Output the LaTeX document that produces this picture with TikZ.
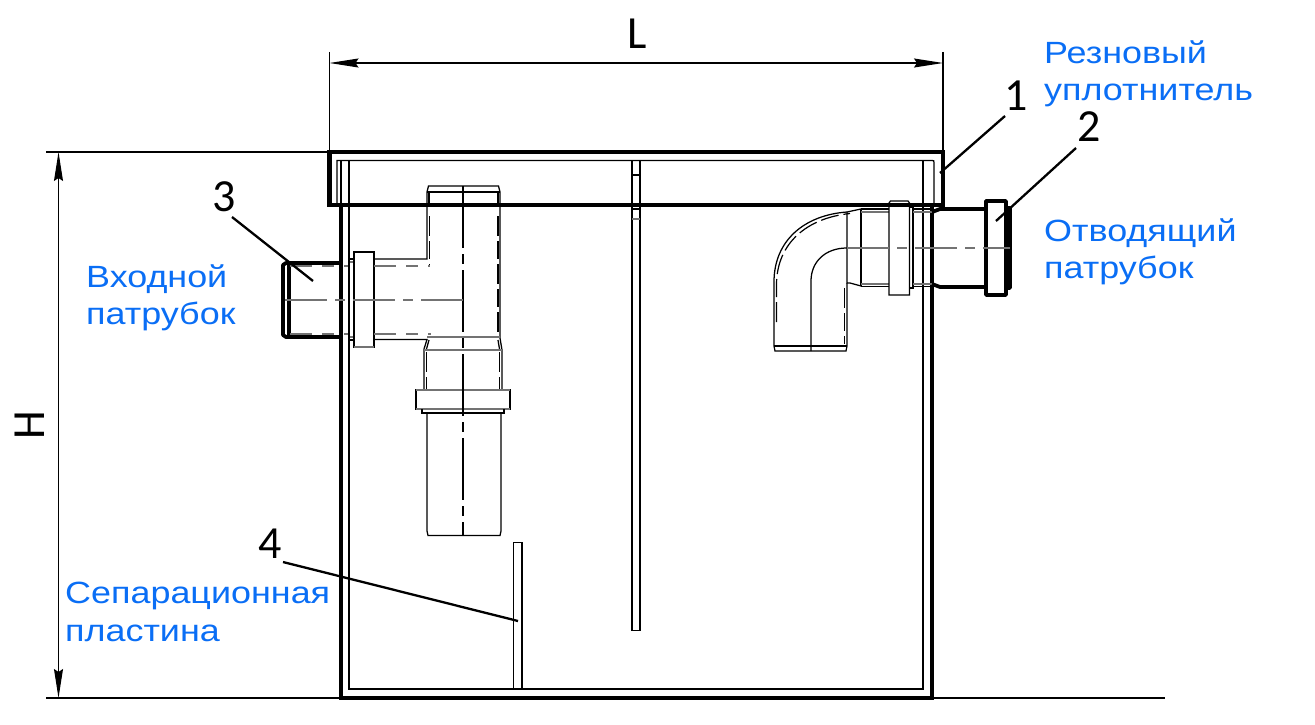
\documentclass[tikz,border=0pt]{standalone}
\usepackage{fontspec}
\setmainfont{Liberation Sans}
\newfontfamily\bluefont[FakeStretch=1.17]{Liberation Sans}
\newfontfamily\numfont{Carlito}
\usetikzlibrary{arrows.meta}
\definecolor{labelblue}{HTML}{0A6EF5}
\tikzset{
  wall/.style={line width=4.3pt,line join=miter},
  pipe/.style={line width=3.8pt,line join=round},
  thin/.style={line width=1.25pt},
  grayl/.style={line width=1.4pt,draw=black!55},
  hid/.style={line width=1.2pt,dash pattern=on 20pt off 5pt on 18pt off 5pt},
  hidg/.style={line width=1.4pt,draw=black!55,dash pattern=on 22pt off 10pt on 12pt off 10pt},
  axis/.style={line width=1.2pt,dash pattern=on 62pt off 6pt on 10pt off 6pt},
  axisg/.style={line width=1.4pt,draw=black!55,dash pattern=on 42pt off 8pt on 10pt off 8pt},
  dimline/.style={line width=1.2pt},
  dimarrow/.style={line width=1.2pt,{Stealth[length=29pt,width=9pt,inset=3pt]}-{Stealth[length=29pt,width=9pt,inset=3pt]}},
  leader/.style={line width=2.3pt},
  num/.style={font=\numfont\fontsize{46}{46}\selectfont,inner sep=0pt},
  lab/.style={font=\bluefont\fontsize{30.7}{37.5}\selectfont,text=labelblue,inner sep=0pt,align=left,anchor=west},
}
\begin{document}
\begin{tikzpicture}[x=1pt,y=-1pt]
\useasboundingbox (0,0) rectangle (1315,725);
% lid and tank
\draw[wall] (329.5,152) rectangle (943,205);
\draw[wall] (341,205) -- (341,698) -- (932,698) -- (932,205);
\draw[thin] (337,205) -- (337,160.5) -- (932,160.5) .. controls (934,160.5) .. (934,163) -- (934,205);
\draw[thin] (341,160.5) -- (341,205);
\draw[thin] (349,160.5) -- (349,689) -- (923,689) -- (923,160.5);
% central baffle
\draw[thin] (632,160.5) -- (632,630.5) -- (640,630.5) -- (640,160.5);
\draw[thin] (632,175) -- (640,175);
\draw[thin] (632,209) -- (640,209);
\draw[grayl] (632,219) -- (640,219);
% separation plate
\draw[thin] (513.5,689) -- (513.5,542.5) -- (522,542.5) -- (522,689);
% inlet spigot
\draw[pipe] (341,263) -- (286,263) -- (283,265) -- (283,335) -- (286,337) -- (341,337);
\draw[pipe] (289,263) -- (289,337);
\draw[hidg] (290,266) -- (349,266);
\draw[hidg] (290,334) -- (349,334);
\draw[grayl] (349,262) -- (354,262);
\draw[grayl] (349,337) -- (354,337);
% inlet flange
\draw[thin] (349,259) rectangle (354,340);
\draw[thin] (354,252) rectangle (374,347);
\draw[grayl] (354,347) -- (374,347);
% tee
\draw[thin] (374,259) -- (427,259) -- (427,192) -- (428.5,186) -- (498.5,186) -- (500,192) -- (500,338) -- (502,350) -- (502,390);
\draw[thin] (427,192) -- (500,192);
\draw[thin] (429,192) -- (429,205);
\draw[thin] (498,192) -- (498,205);
\draw[hid] (429.5,216) -- (429.5,266);
\draw[hid] (498,216) -- (498,335);
\draw[thin] (374,339.5) -- (427,339.5) -- (424,349) -- (424,390);
\draw[thin] (429,340) -- (426.5,349);
\draw[thin] (498,340) -- (499.5,349);
\draw[hidg] (374,266) -- (430,266);
\draw[hidg] (374,334) -- (431,334);
\draw[grayl] (427,337) -- (500,337);
\draw[grayl] (424,350) -- (502,350);
\draw[hid] (426.5,352) -- (426.5,390);
\draw[hid] (499.5,352) -- (499.5,390);
% tee collar and tail
\draw[thin] (416,390) rectangle (510,409);
\draw[grayl] (416,390) -- (510,390);
\draw[grayl] (416,409) -- (510,409);
\draw[thin] (422,409) -- (422,413) -- (504,413) -- (504,409);
\draw[thin] (427,413) -- (427,531) -- (428,535.5) -- (500,535.5) -- (501,531) -- (501,413);
% axes of the tee
\draw[axis] (463,186) -- (463,535.5);
\draw[axisg] (285,300) -- (463,300);
% elbow
\draw[thin] (847,212) .. controls (805,215) and (774,240) .. (774,282) -- (774,346) -- (775,351) -- (846,351) -- (847,346) -- (847,283);
\draw[hid] (776.5,322) -- (776.5,284) .. controls (777,243) and (807,218) .. (850,213.5);
\draw[hid] (844.5,288) -- (844.5,344);
\draw[thin] (774,346) -- (847,346);
\draw[thin] (847,212) -- (847,283) -- (850,283) -- (861,286);
\draw[thin] (847,212) -- (861,209);
\draw[thin] (811,351) -- (811,281) .. controls (811,262) and (825,248) .. (847,248);
\draw[thin] (861,209) -- (861,286);
\draw[thin] (861,209) -- (889,209);
\draw[grayl] (861,212) -- (889,212);
\draw[grayl] (861,284) -- (889,284);
\draw[thin] (861,286.5) -- (889,286.5);
% outlet collar
\draw[thin] (889,203) -- (890.5,201) -- (908,201) -- (909.5,203) -- (909.5,295) -- (889,295) -- cycle;
\draw[thin] (889,206) -- (909.5,206);
\draw[thin] (909.5,207) -- (913,207) -- (913,288) -- (909.5,288);
\draw[thin] (913,209) -- (932,209);
\draw[grayl] (913,212) -- (932,212);
\draw[thin] (913,286.5) -- (932,286.5);
\draw[grayl] (913,284) -- (932,284);
% outlet spigot
\draw[pipe] (932,212) -- (940,209) -- (986,209);
\draw[pipe] (932,284) -- (940,287) -- (986,287);
\draw[pipe] (986,201) rectangle (1006,295);
\draw[pipe] (1006,208) -- (1010,208) -- (1010,288) -- (1006,288);
\draw[axisg] (847,248) -- (1010,248);
% dimensions
\coordinate (lextA) at (329.5,52);
\coordinate (lextB) at (329.5,152);
\coordinate (rextA) at (943,52);
\coordinate (rextB) at (943,152);
\coordinate (hTopA) at (46,152);
\coordinate (hTopB) at (329.5,152);
\coordinate (hBotA) at (46,698);
\coordinate (hBotB) at (341,698);
\coordinate (hBotC) at (932,698);
\coordinate (hBotD) at (1165,698);
\coordinate (lEndA) at (329.5,63);
\coordinate (lEndB) at (943,63);
\coordinate (hEndA) at (58.5,152);
\coordinate (hEndB) at (58.5,698);
\draw[dimline] (lextA) -- (lextB);
\draw[dimline] (rextA) -- (rextB);
\draw[dimline] (hTopA) -- (hTopB);
\draw[dimline] (hBotA) -- (hBotB);
\draw[dimline] (hBotC) -- (hBotD);
\draw[dimarrow] (lEndA) -- (lEndB);
\draw[dimarrow] (hEndA) -- (hEndB);
\node[num] (dimL) at (637,34) {L};
\node[num,rotate=90] (dimH) at (30,425) {H};
% numbered leaders
\node[num] (n1) at (1016,96) {1};
\node[num] (n2) at (1089,127) {2};
\node[num] (n3) at (224,197) {3};
\node[num] (n4) at (270,544) {4};
\coordinate (l1a) at (1005,116);
\coordinate (l1b) at (940,173);
\coordinate (l2a) at (1076,148);
\coordinate (l2b) at (996,221);
\coordinate (l3a) at (232,217);
\coordinate (l3b) at (313,281);
\coordinate (l4a) at (283,562);
\coordinate (l4b) at (518,621);
\draw[leader] (l1a) -- (l1b);
\draw[leader] (l2a) -- (l2b);
\draw[leader] (l3a) -- (l3b);
\draw[leader] (l4a) -- (l4b);
% labels
\node[lab] (seal) at (1044,74) {Резновый\\уплотнитель};
\node[lab] (outl) at (1044,252) {Отводящий\\патрубок};
\node[lab] (inl) at (86,298) {Входной\\патрубок};
\node[lab] (sep) at (65,612) {Сепарационная\\пластина};
\end{tikzpicture}
\end{document}
